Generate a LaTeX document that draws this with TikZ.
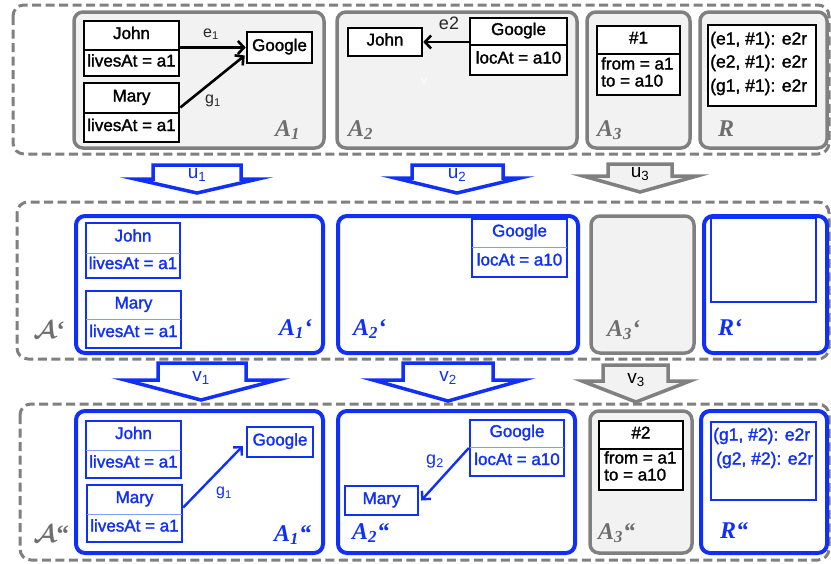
\documentclass[tikz,border=0pt]{standalone}
\usepackage{fontspec}
\setmainfont{Liberation Sans}
\newfontfamily\boxff{Liberation Sans}[FakeBold=1.6]
\newfontfamily\serifl{Liberation Serif}
\usepackage{amsmath}
\usetikzlibrary{arrows.meta}
\definecolor{bblue}{RGB}{16,48,250}
\definecolor{lblue}{RGB}{130,155,255}
\definecolor{ggray}{RGB}{128,128,128}
\definecolor{gfill}{RGB}{242,242,242}
\definecolor{lgray}{RGB}{110,110,110}
\definecolor{dgray}{RGB}{40,40,40}
\newcommand\boxfont{\boxff\fontsize{17}{17}\selectfont}
\newcommand\rfont{\boxff\fontsize{17.5}{18}\selectfont}
\newcommand\lblfont{\serifl\bfseries\itshape\fontsize{24}{24}\selectfont}
\newcommand\arrfont{\fontsize{19}{19}\selectfont}
\tikzset{
  outerbox/.style={draw=ggray, line width=3pt, dash pattern=on 9pt off 4.5pt, rounded corners=11pt},
  grayblk/.style={draw=ggray, fill=gfill, line width=3.5pt, rounded corners=9pt, inner sep=0pt},
  blueblk/.style={draw=bblue, fill=white, line width=4pt, rounded corners=9pt, inner sep=0pt},
  kbox/.style={draw=black, line width=2.6pt, fill=white, inner sep=0pt},
  bbox/.style={draw=bblue, line width=2.4pt, fill=white, inner sep=0pt},
  kdiv/.style={draw=black, line width=1.2pt},
  bdiv/.style={draw=lblue, line width=1pt},
  ktxt/.style={font=\boxfont, text=black, inner sep=0pt, text height=0.7em, text depth=0pt},
  btxt/.style={font=\boxfont, text=bblue, inner sep=0pt, text height=0.7em, text depth=0pt},
  kltxt/.style={font=\boxfont, text=black, inner sep=0pt, anchor=west, text height=0.7em, text depth=0pt},
  krtxt/.style={font=\rfont, text=black, inner sep=0pt, anchor=west},
  brtxt/.style={font=\rfont, text=bblue, inner sep=0pt, anchor=west},
  karr/.style={draw=black, line width=2.6pt, -{Straight Barb[length=6pt,width=13pt]}},
  barr/.style={draw=bblue, line width=2.4pt, -{Straight Barb[length=6pt,width=12pt]}},
  elbl/.style={font=\fontsize{16}{16}\selectfont, text=dgray, inner sep=0pt},
  elblb/.style={font=\fontsize{16}{16}\selectfont, text=bblue, inner sep=0pt},
  glbl/.style={font=\lblfont, text=lgray, anchor=base west, inner sep=0pt},
  blbl/.style={font=\lblfont, text=bblue, anchor=base west, inner sep=0pt},
  calbl/.style={text=lgray, anchor=base west, inner sep=0pt, scale=2.5},
  bblock/.style={draw=bblue, fill=white, line width=3.5pt, line join=miter},
  gblock/.style={draw=ggray, fill=gfill, line width=3.5pt, line join=miter},
  bulbl/.style={font=\arrfont, text=bblue, inner sep=0pt},
  gulbl/.style={font=\arrfont, text=black, inner sep=0pt},
}
% block: name, style, x1,y1,x2,y2
\newcommand\blk[6]{\node[#2, minimum width={#5-#3}, minimum height={#6-#4}] (#1) at ({(#3+#5)/2},{(#4+#6)/2}) {};}
% two-part box: name, k/b, x1,y1,x2,y2, ydiv, title, attr
\newcommand\ubox[9]{%
  \node[#2box, minimum width={#5-#3}, minimum height={#6-#4}] (#1) at ({(#3+#5)/2},{(#4+#6)/2}) {};
  \draw[#2div] (#3,#7) -- (#5,#7);
  \node[#2txt] (#1-t) at ({(#3+#5)/2},{(#4+#7)/2}) {#8};
  \node[#2txt] (#1-a) at ({(#3+#5)/2},{(#7+#6)/2}) {#9};
}
% one-part box: name, k/b, x1,y1,x2,y2, text
\newcommand\onebox[7]{\node[#2box, #2txt, minimum width={#5-#3}, minimum height={#6-#4}] (#1) at ({(#3+#5)/2},{(#4+#6)/2}) {#7};}
\begin{document}
\begin{tikzpicture}[x=1pt,y=-1pt]
\useasboundingbox (0,0) rectangle (831,563);
% outer dashed frames
\draw[outerbox] (13,5) rectangle (829,154);
\draw[outerbox] (17,202) rectangle (829,359);
\draw[outerbox] (20,404) rectangle (829,560);

% ---------- top row ----------
\blk{A1}{grayblk}{74}{12}{324}{148}
\blk{A2}{grayblk}{337}{12}{577}{148}
\blk{A3}{grayblk}{587}{12}{690}{148}
\blk{R}{grayblk}{700}{12}{827}{148}

\ubox{john1}{k}{84}{21}{179}{76}{50}{John}{livesAt = a1}
\ubox{mary1}{k}{84}{83}{179}{142}{113}{Mary}{livesAt = a1}
\onebox{google1}{k}{247}{32}{312}{63}{Google}
\draw[karr] (john1.east |- google1.west) -- (google1.west);
\draw[karr] ([yshift=5pt]mary1.east) -- ([yshift=-8pt,xshift=-1pt]google1.west);
\node[elbl] (e1) at (211,34) {e\textsubscript{1}};
\node[elbl] (g1) at (213,101) {g\textsubscript{1}};
\node[glbl] (lA1) at (275,136) {A\textsubscript{1}};

\onebox{john2}{k}{348}{28}{422}{56}{John}
\ubox{google2}{k}{470}{18}{567}{75}{45}{Google}{locAt = a10}
\draw[karr] (google2.west |- john2.east) -- (john2.east);
\node[elbl, font=\fontsize{18}{18}\selectfont] (e2) at (449,23) {e2};
\node[text=white, font=\fontsize{12}{12}\selectfont, inner sep=0pt] (ghostv) at (424,81) {v};
\node[glbl] (lA2) at (348,136) {A\textsubscript{2}};

\onebox{hash1}{k}{597}{26}{680}{95}{}
\draw[kdiv] (597,54) -- (680,54);
\node[ktxt] (hash1-t) at (638.5,40) {\#1};
\node[kltxt] (hash1-a) at (601,66) {from = a1};
\node[kltxt] (hash1-b) at (601,83) {to = a10};
\node[glbl] (lA3) at (597,136) {A\textsubscript{3}};

\node[kbox, minimum width=108, minimum height=81] (rbox1) at (762,65.5) {};
\node[krtxt] (r1a) at (710,40) {(e1, \#1): e2r};
\node[krtxt] (r1b) at (710,63) {(e2, \#1): e2r};
\node[krtxt] (r1c) at (710,87) {(g1, \#1): e2r};
\node[glbl] (lR) at (718,136) {R};

% ---------- u arrows ----------
\draw[bblock] (153,165) -- (241,165) -- (241,179) -- (258,179) -- (197,193) -- (135,179) -- (153,179) -- cycle;
\node[bulbl] (u1) at (197,175) {u\textsubscript{1}};
\draw[bblock] (412,165) -- (503,165) -- (503,178) -- (520,178) -- (457,193) -- (395,178) -- (412,178) -- cycle;
\node[bulbl] (u2) at (457,175) {u\textsubscript{2}};
\draw[gblock] (608,164) -- (672,164) -- (672,176) -- (697,176) -- (640,192) -- (583,176) -- (608,176) -- cycle;
\node[gulbl] (u3) at (640,174) {u\textsubscript{3}};

% ---------- middle row ----------
\blk{A1p}{blueblk}{76}{216}{323}{353}
\blk{A2p}{blueblk}{338}{216}{578}{353}
\blk{A3p}{grayblk}{591}{216}{694}{353}
\blk{Rp}{blueblk}{704}{216}{827}{353}

\ubox{john1p}{b}{86}{223}{180}{278}{253}{John}{livesAt = a1}
\ubox{mary1p}{b}{86}{291}{181}{348}{319}{Mary}{livesAt = a1}
\node[blbl] (lA1p) at (279,335) {A\textsubscript{1}‘};
\ubox{google2p}{b}{472}{219}{567}{277}{247}{Google}{locAt = a10}
\node[blbl] (lA2p) at (353,335) {A\textsubscript{2}‘};
\node[glbl] (lA3p) at (607,336) {A\textsubscript{3}‘};
\node[bbox, minimum width=105, minimum height=84] (rboxp) at (763.5,260) {};
\node[blbl] (lRp) at (718,335) {R‘};
\node[calbl] (calA1) at (33,338) {$\boldsymbol{\mathcal{A}}${\serifl\bfseries ‘}};

% ---------- v arrows ----------
\draw[bblock] (158,363) -- (246,363) -- (246,380) -- (277,380) -- (201,400) -- (125,380) -- (158,380) -- cycle;
\node[bulbl] (v1) at (201,378) {v\textsubscript{1}};
\draw[bblock] (403,363) -- (493,363) -- (493,380) -- (523,380) -- (448,401) -- (373,380) -- (403,380) -- cycle;
\node[bulbl] (v2) at (448,378) {v\textsubscript{2}};
\draw[gblock] (603,365) -- (668,365) -- (668,381) -- (690,381) -- (636,402) -- (582,381) -- (603,381) -- cycle;
\node[gulbl] (v3) at (636,380) {v\textsubscript{3}};

% ---------- bottom row ----------
\blk{A1pp}{blueblk}{76}{411}{323}{553}
\blk{A2pp}{blueblk}{338}{411}{575}{553}
\blk{A3pp}{grayblk}{590}{411}{692}{553}
\blk{Rpp}{blueblk}{701}{411}{827}{553}

\ubox{john1pp}{b}{86}{421}{181}{478}{450}{John}{livesAt = a1}
\ubox{mary1pp}{b}{87}{485}{182}{542}{514}{Mary}{livesAt = a1}
\onebox{google1pp}{b}{247}{427}{313}{457}{Google}
\draw[barr] ([yshift=6pt]mary1pp.east) -- ([yshift=-4pt,xshift=-3pt]google1pp.west);
\node[elblb] (g1b) at (224,493) {g\textsubscript{1}};
\node[blbl] (lA1pp) at (274,541) {A\textsubscript{1}“};

\ubox{google2pp}{b}{470}{420}{564}{476}{447}{Google}{locAt = a10}
\onebox{mary2pp}{b}{345}{486}{418}{515}{Mary}
\draw[barr] (google2pp.west) -- ([xshift=2pt]mary2pp.east);
\node[elblb, font=\fontsize{18}{18}\selectfont] (g2b) at (435,462) {g\textsubscript{2}};
\node[blbl] (lA2pp) at (352,539) {A\textsubscript{2}“};

\onebox{hash2}{k}{599}{421}{683}{490}{}
\draw[kdiv] (599,449) -- (683,449);
\node[ktxt] (hash2-t) at (641,435) {\#2};
\node[kltxt] (hash2-a) at (604,460) {from = a1};
\node[kltxt] (hash2-b) at (604,477) {to = a10};
\node[glbl] (lA3pp) at (598,539) {A\textsubscript{3}“};

\node[bbox, minimum width=105, minimum height=78] (rboxpp) at (763.5,461) {};
\node[brtxt] (r2a) at (713,436) {(g1, \#2): e2r};
\node[brtxt] (r2b) at (716,460) {(g2, \#2): e2r};
\node[blbl] (lRpp) at (720,538) {R“};
\node[calbl] (calA2) at (33,542) {$\boldsymbol{\mathcal{A}}${\serifl\bfseries “}};
\end{tikzpicture}
\end{document}
